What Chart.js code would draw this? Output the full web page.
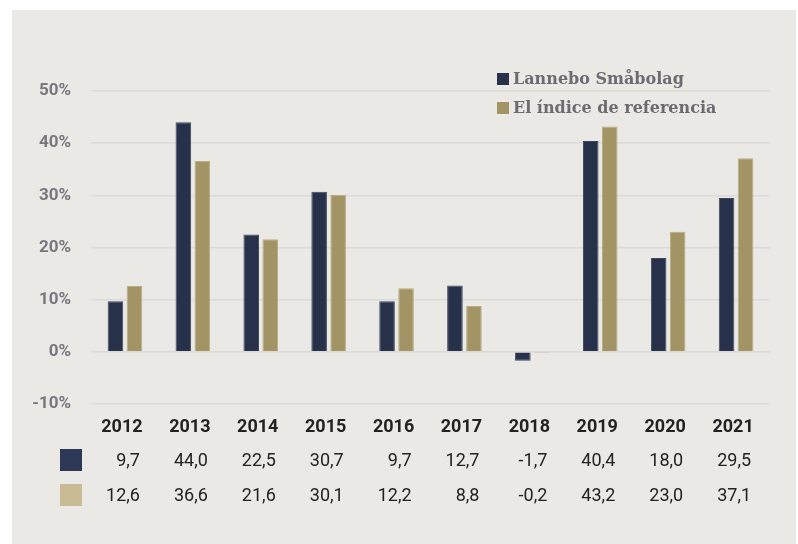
<!DOCTYPE html>
<html>
<head>
<meta charset="utf-8">
<script src="https://cdn.jsdelivr.net/npm/chart.js@4/dist/chart.umd.min.js"></script>
<style>
  html, body { margin: 0; padding: 0; background: #ffffff; }
  #wrap { width: 798px; height: 544px; position: relative; }
</style>
</head>
<body>
<div id="wrap"><canvas id="returnsChart" width="798" height="544"></canvas></div>
<script>
'use strict';

// Årlig avkastning (%)
const years = ['2012', '2013', '2014', '2015', '2016', '2017', '2018', '2019', '2020', '2021'];
const lanneboValues = [9.7, 44.0, 22.5, 30.7, 9.7, 12.7, -1.7, 40.4, 18.0, 29.5];
const indexValues = [12.6, 36.6, 21.6, 30.1, 12.2, 8.8, -0.2, 43.2, 23.0, 37.1];
const seriesNames = ['Lannebo Småbolag', 'El índice de referencia'];

const NAVY = '#27314a';
const GOLD = '#a39466';
const NAVY_SWATCH = '#2d3857';
const GOLD_SWATCH = '#c9bc94';

const fmt = (v) => v.toFixed(1).replace('.', ',');

// panel background + legend + data table under the chart
const decorPlugin = {
  id: 'decor',
  beforeDraw(chart) {
    const ctx = chart.ctx;
    ctx.save();
    ctx.fillStyle = '#ebe9e5';
    ctx.fillRect(12, 10, 784, 534);
    ctx.restore();
  },
  afterDraw(chart) {
    const ctx = chart.ctx;
    const x = chart.scales.x;
    ctx.save();

    // legend
    const legendRows = [[NAVY, seriesNames[0], 79], [GOLD, seriesNames[1], 108]];
    ctx.font = 'bold 16px "DejaVu Serif"';
    ctx.textBaseline = 'middle';
    ctx.textAlign = 'left';
    legendRows.forEach(([color, text, y]) => {
      ctx.fillStyle = color;
      ctx.fillRect(497, y - 6, 12, 12);
      ctx.fillStyle = '#6e6a72';
      ctx.fillText(text, 513, y + 1);
    });

    // table: years
    ctx.fillStyle = '#222222';
    ctx.font = 'bold 18px Roboto';
    ctx.textAlign = 'center';
    years.forEach((yr, i) => {
      ctx.fillText(yr, x.getPixelForValue(i) - 3, 427);
    });

    // table: swatches
    ctx.fillStyle = NAVY_SWATCH;
    ctx.fillRect(60, 449, 22, 22);
    ctx.fillStyle = GOLD_SWATCH;
    ctx.fillRect(60, 484, 22, 22);

    // table: values
    ctx.fillStyle = '#222222';
    ctx.font = '18px Roboto';
    ctx.textAlign = 'right';
    lanneboValues.forEach((v, i) => {
      ctx.fillText(fmt(v), x.getPixelForValue(i) + 15, 461);
    });
    indexValues.forEach((v, i) => {
      ctx.fillText(fmt(v), x.getPixelForValue(i) + 15, 496);
    });

    ctx.restore();
  }
};

const ctx = document.getElementById('returnsChart').getContext('2d');

const returnsChart = new Chart(ctx, {
  type: 'bar',
  data: {
    labels: years,
    datasets: [{
      label: seriesNames[0],
      data: lanneboValues,
      backgroundColor: NAVY,
      borderColor: '#3d4760',
      borderWidth: 1,
      categoryPercentage: 0.56,
      barPercentage: 0.82
    }, {
      label: seriesNames[1],
      data: indexValues,
      backgroundColor: GOLD,
      borderColor: '#b9ac82',
      borderWidth: 1,
      categoryPercentage: 0.56,
      barPercentage: 0.82
    }]
  },
  options: {
    responsive: false,
    animation: false,
    layout: {
      padding: { left: 12, top: 91, right: 28, bottom: 140 }
    },
    plugins: {
      legend: { display: false },
      tooltip: { enabled: false }
    },
    scales: {
      x: {
        display: false
      },
      y: {
        min: -10,
        max: 50,
        afterFit(scale) {
          scale.width = 79;
        },
        border: { display: false },
        grid: {
          color: '#dcdad8',
          lineWidth: 1.5,
          drawTicks: false
        },
        ticks: {
          stepSize: 10,
          padding: 20,
          color: '#7a7680',
          font: { family: 'Roboto', weight: 'bold', size: 17 },
          callback: (v) => v + '%'
        }
      }
    }
  },
  plugins: [decorPlugin]
});
</script>
</body>
</html>
